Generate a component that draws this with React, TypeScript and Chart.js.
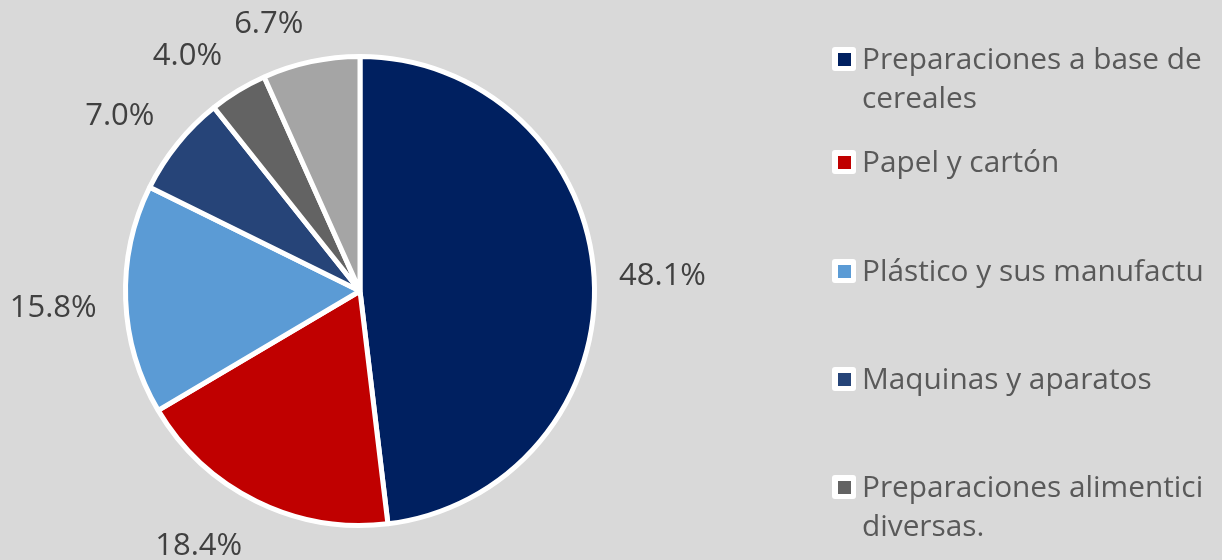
import React, { useEffect, useRef } from "react";
import { Chart, registerables } from "chart.js";

Chart.register(...registerables);

const categories = [
  "Preparaciones a base de cereales",
  "Papel y cartón",
  "Plástico y sus manufacturas",
  "Maquinas y aparatos",
  "Preparaciones alimenticias diversas.",
  "Otros",
];
const values = [48.1, 18.4, 15.8, 7.0, 4.0, 6.7];
const colors = ["#002060", "#C00000", "#5B9BD5", "#264478", "#636363", "#A5A5A5"];
// Legend text as it is shown (clipped by the chart's right edge)
const legendLines = [
  ["Preparaciones a base de", "cereales"],
  ["Papel y cartón"],
  ["Plástico y sus manufactu"],
  ["Maquinas y aparatos"],
  ["Preparaciones alimentici", "diversas."],
];

const FONT = "'Open Sans', 'DejaVu Sans', sans-serif";

const outsideLabels = {
  id: "outsideLabels",
  afterDatasetsDraw(chart: any) {
    const ctx = chart.ctx;
    const meta = chart.getDatasetMeta(0);
    const data = chart.data.datasets[0].data as number[];
    ctx.save();
    ctx.font = `31px ${FONT}`;
    ctx.fillStyle = "#404040";
    ctx.textAlign = "center";
    ctx.textBaseline = "middle";
    meta.data.forEach((arc: any, i: number) => {
      const p = arc.getProps(["x", "y", "startAngle", "endAngle", "outerRadius"], true);
      const mid = (p.startAngle + p.endAngle) / 2;
      const dx = Math.cos(mid);
      const dy = Math.sin(mid);
      const text = data[i].toFixed(1) + "%";
      const w = ctx.measureText(text).width;
      const h = 32;
      const r = p.outerRadius + 2 + 25;
      const kx = 5;
      const ky = 4;
      const ox = (w / 2) * Math.max(-1, Math.min(1, dx * kx));
      const oy = (h / 2) * Math.max(-1, Math.min(1, dy * ky));
      ctx.fillText(text, p.x + dx * r + ox - 2, p.y + dy * r + oy + 5);
    });
    ctx.restore();
  },
};

const legendTops = [40, 143, 252, 360, 468];

export default function App() {
  const ref = useRef<HTMLCanvasElement | null>(null);

  useEffect(() => {
    if (!ref.current) return;
    const chart = new Chart(ref.current, {
      type: "pie",
      data: {
        labels: categories,
        datasets: [
          {
            data: values,
            backgroundColor: colors,
            borderColor: "#FFFFFF",
            borderWidth: 5,
          },
        ],
      },
      options: {
        responsive: false,
        animation: false,
        layout: { padding: { left: 123, right: 625, top: 54, bottom: 32 } },
        plugins: {
          legend: { display: false },
          tooltip: { enabled: false },
        },
      },
      plugins: [outsideLabels],
    });
    return () => chart.destroy();
  }, []);

  return (
    <div
      style={{
        position: "fixed",
        left: 0,
        top: 0,
        width: 1222,
        height: 560,
        background: "#D9D9D9",
        overflow: "hidden",
      }}
    >
      <canvas ref={ref} width={1222} height={560} style={{ position: "absolute", left: 0, top: 0 }} />
      {legendLines.map((lines, i) => (
        <div key={i}>
          <div
            style={{
              position: "absolute",
              left: 832,
              top: legendTops[i] + 7,
              width: 24,
              height: 24,
              background: "#FFFFFF",
              borderRadius: 3,
              boxSizing: "border-box",
              padding: 5.5,
            }}
          >
            <div style={{ width: 13, height: 13, background: colors[i] }} />
          </div>
          {lines.map((ln, j) => (
            <div
              key={j}
              style={{
                position: "absolute",
                left: 862,
                top: legendTops[i] + j * 39 - 2,
                whiteSpace: "nowrap",
                font: `29.8px ${FONT}`,
                lineHeight: "39px",
                color: "#595959",
              }}
            >
              {ln}
            </div>
          ))}
        </div>
      ))}
    </div>
  );
}
